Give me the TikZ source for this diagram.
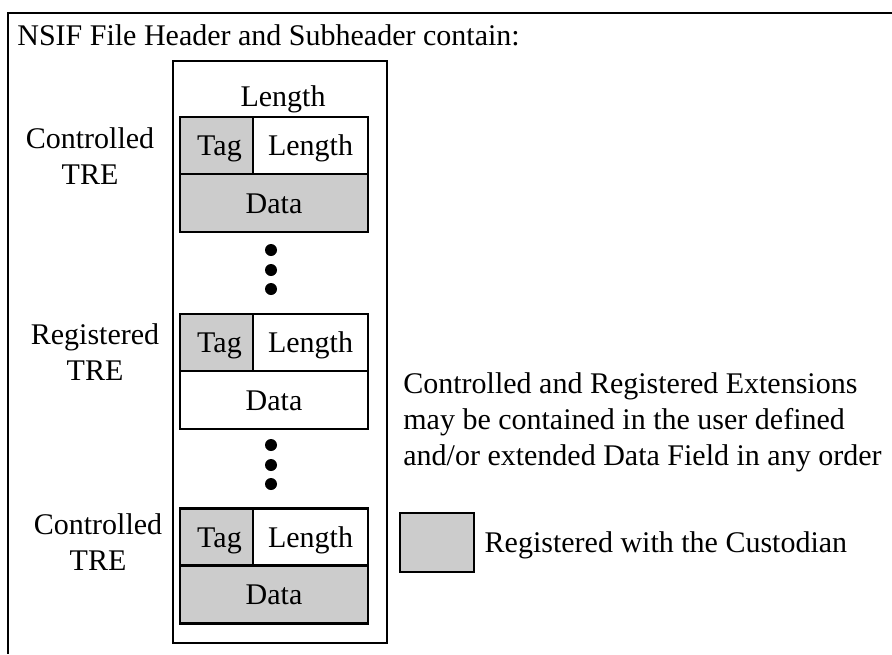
\documentclass[tikz,border=0pt]{standalone}
\usepackage{fontspec}
\setmainfont{Liberation Serif}
\usetikzlibrary{positioning}
\definecolor{regGray}{gray}{0.8}

\begin{document}
\begin{tikzpicture}[x=1pt,y=-1pt,line width=2.7pt,
	font=\fontsize{30}{36}\selectfont,
	cell/.style={draw,outer sep=0pt,inner sep=0pt,text height=20pt,text depth=0pt,minimum height=57pt},
	tagcell/.style={cell,fill=regGray,minimum width=73pt},
	lencell/.style={cell,fill=white,minimum width=115pt},
	datacell/.style={cell,minimum width=188pt,minimum height=58pt},
	trelabel/.style={align=center,inner sep=0pt,anchor=north}]
	\useasboundingbox (0,0) rectangle (892,654);
	\draw[line width=2pt] (892,13) -- (8,13) -- (8,654);
	
	\node[anchor=base west,inner sep=0pt] (title) at (16,45) {NSIF File Header and Subheader contain:};
	\node[draw,outer sep=0pt,minimum width=214pt,minimum height=582pt] (column) at (280,352) {};
	\node[anchor=base,inner sep=0pt] (toplen) at (283,106) {Length};
	
	% controlled TRE
	\node[trelabel] (lab1) at (90,126.5) {Controlled\\TRE};
	\node[tagcell] (tag1) at (216.5,145.5) {\hspace{6pt}Tag};
	\node[lencell,right=0pt of tag1] (len1) {Length};
	\node[datacell,fill=regGray,below=0pt of tag1.south west,anchor=north west] (data1) {Data};
	
	% registered TRE
	\node[trelabel] (lab2) at (95,322) {Registered\\TRE};
	\node[tagcell] (tag2) at (216.5,342.5) {\hspace{6pt}Tag};
	\node[lencell,right=0pt of tag2] (len2) {Length};
	\node[datacell,fill=white,below=0pt of tag2.south west,anchor=north west] (data2) {Data};
	
	% controlled TRE
	\node[trelabel] (lab3) at (98,512.5) {Controlled\\TRE};
	\node[tagcell] (tag3) at (216.5,537) {\hspace{6pt}Tag};
	\node[lencell,right=0pt of tag3] (len3) {Length};
	\node[datacell,fill=regGray,below=0pt of tag3.south west,anchor=north west] (data3) {Data};
	
	\foreach \y in {250,270,289,445,465,484}
		\fill (271,\y) circle (6pt);
	
	\node[align=left,inner sep=0pt,anchor=north west] (note) at (402,371.5) {Controlled and Registered Extensions\\may be contained in the user defined\\and/or extended Data Field in any order};
	\node[draw,fill=regGray,minimum width=74pt,minimum height=59pt] (legend) at (437,542.5) {};
	\node[right=8pt of legend,inner sep=0pt,text depth=0pt] (legendtext) {Registered with the Custodian};
\end{tikzpicture}
\end{document}
